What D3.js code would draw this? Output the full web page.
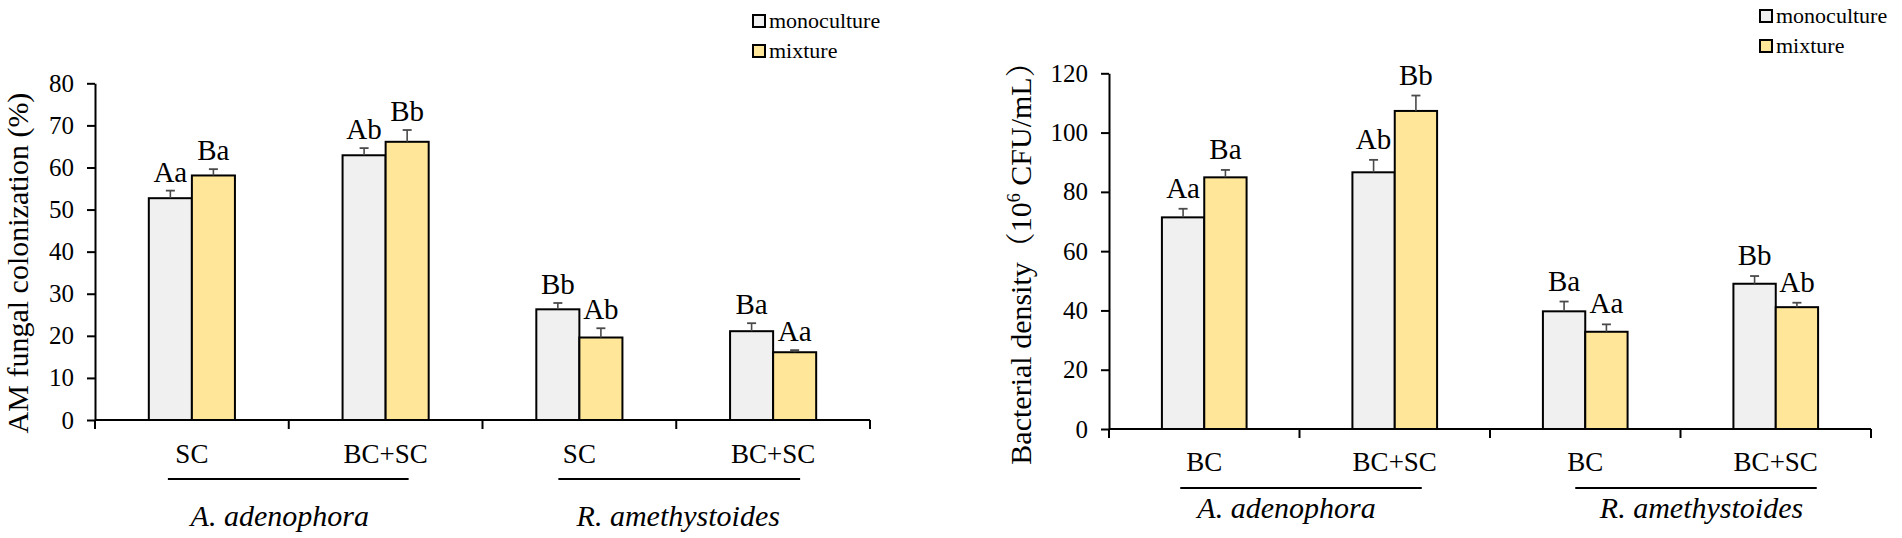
<!DOCTYPE html>
<html><head><meta charset="utf-8">
<script src="https://cdn.jsdelivr.net/npm/d3@7/dist/d3.min.js"></script>
<style>
body{margin:0;background:#fff;}
svg{display:block;}
text{font-family:"Liberation Serif","Times New Roman","Noto Serif CJK SC","Noto Sans CJK SC",serif;fill:#000;}
</style>
</head><body>
<svg id="chart" width="1902" height="538"></svg>
<script>
// ---------- data ----------
const seriesNames = ["monoculture", "mixture"];
const speciesNames = ["A. adenophora", "R. amethystoides"];

// Left panel: AM fungal colonization (%)
const amfCategories = ["SC", "BC+SC", "SC", "BC+SC"];
const amfMono = [52.7, 62.9, 26.3, 21.1];
const amfMonoErr = [1.8, 1.7, 1.5, 1.9];
const amfMix = [58.1, 66.1, 19.6, 16.1];
const amfMixErr = [1.5, 2.8, 2.2, 0.5];
const amfMonoLabels = ["Aa", "Ab", "Bb", "Ba"];
const amfMixLabels = ["Ba", "Bb", "Ab", "Aa"];
const amfTicks = [0, 10, 20, 30, 40, 50, 60, 70, 80];

// Right panel: Bacterial density (10^6 CFU/mL)
const bacCategories = ["BC", "BC+SC", "BC", "BC+SC"];
const bacMono = [71.4, 86.6, 39.7, 49.0];
const bacMonoErr = [2.9, 4.2, 3.3, 2.6];
const bacMix = [84.9, 107.3, 32.8, 41.1];
const bacMixErr = [2.5, 5.2, 2.5, 1.5];
const bacMonoLabels = ["Aa", "Ab", "Ba", "Bb"];
const bacMixLabels = ["Ba", "Bb", "Aa", "Ab"];
const bacTicks = [0, 20, 40, 60, 80, 100, 120];

// ---------- styles ----------
const fills = ["#f0f0f0", "#ffe699"];
const svg = d3.select("#chart");

function drawPanel(o) {
  const g = svg.append("g");
  const x = d3.scaleBand().domain(d3.range(o.categories.length)).range([o.x0, o.x1]).padding(0);
  const xs = d3.scaleBand().domain([0, 1]).range([0, x.bandwidth()]).paddingInner(0).paddingOuter(1.25);
  const y = d3.scaleLinear().domain([0, o.yMax]).range([o.yBottom, o.yTop]);

  const series = [
    {vals: o.mono, err: o.monoErr, labels: o.monoLabels},
    {vals: o.mix, err: o.mixErr, labels: o.mixLabels}
  ];

  series.forEach((s, si) => {
    const items = s.vals.map((v, j) => ({v, e: s.err[j], lab: s.labels[j], j}));
    const cx = d => x(d.j) + xs(si) + xs.bandwidth() / 2;
    g.selectAll(null).data(items).enter().append("rect")
      .attr("x", d => x(d.j) + xs(si))
      .attr("y", d => y(d.v))
      .attr("width", xs.bandwidth())
      .attr("height", d => y(0) - y(d.v))
      .attr("fill", fills[si])
      .attr("stroke", "#000")
      .attr("stroke-width", 2);
    // error bars
    g.selectAll(null).data(items).enter().append("line")
      .attr("x1", cx).attr("x2", cx)
      .attr("y1", d => y(d.v)).attr("y2", d => y(d.v + d.e))
      .attr("stroke", "#4a4a4a").attr("stroke-width", 1.6);
    g.selectAll(null).data(items).enter().append("line")
      .attr("x1", d => cx(d) - 4.5).attr("x2", d => cx(d) + 4.5)
      .attr("y1", d => y(d.v + d.e)).attr("y2", d => y(d.v + d.e))
      .attr("stroke", "#4a4a4a").attr("stroke-width", 1.8);
    // letters
    g.selectAll(null).data(items).enter().append("text")
      .attr("x", cx)
      .attr("y", d => y(d.v + d.e) - o.labelGap)
      .attr("text-anchor", "middle")
      .attr("font-size", 29)
      .text(d => d.lab);
  });

  // y axis
  const ya = g.append("g").attr("transform", `translate(${o.x0},0)`)
    .call(d3.axisLeft(y).tickValues(o.ticks).tickSize(8).tickSizeOuter(0).tickPadding(13).tickFormat(d3.format("d")));
  ya.select(".domain").attr("stroke", "#000").attr("stroke-width", 2);
  ya.selectAll(".tick line").attr("stroke", "#000").attr("stroke-width", 2);
  ya.selectAll(".tick text").attr("font-size", 25).attr("font-family", null).attr("fill", "#000");

  // x axis line + boundary ticks
  g.append("line").attr("x1", o.x0).attr("x2", o.x1).attr("y1", y(0)).attr("y2", y(0))
    .attr("stroke", "#000").attr("stroke-width", 2);
  const bounds = x.domain().map(j => x(j)).concat([o.x1]);
  g.selectAll(null).data(bounds).enter().append("line")
    .attr("x1", d => d).attr("x2", d => d)
    .attr("y1", y(0)).attr("y2", y(0) + 9)
    .attr("stroke", "#000").attr("stroke-width", 2);

  // category labels
  g.selectAll(null).data(o.categories).enter().append("text")
    .attr("x", (d, j) => x(j) + x.bandwidth() / 2)
    .attr("y", o.catY)
    .attr("text-anchor", "middle")
    .attr("font-size", 27)
    .text(d => d);

  // species underline + names
  speciesNames.forEach((sp, k) => {
    const c1 = x(2 * k) + x.bandwidth() / 2, c2 = x(2 * k + 1) + x.bandwidth() / 2;
    const a = c1 + o.lineOff[k][0], b = c2 + o.lineOff[k][1];
    g.append("line").attr("x1", a).attr("x2", b).attr("y1", o.lineY).attr("y2", o.lineY)
      .attr("stroke", "#000").attr("stroke-width", 2.2);
    g.append("text").attr("x", (c1 + c2) / 2 + o.spOff[k]).attr("y", o.spY)
      .attr("text-anchor", "middle").attr("font-size", 30).attr("font-style", "italic")
      .text(sp);
  });

  // y title
  const t = g.append("text")
    .attr("transform", `translate(${o.titleX},${o.titleY}) rotate(-90)`)
    .attr("text-anchor", "middle").attr("font-size", 30);
  o.title(t);

  // legend
  seriesNames.forEach((n, i) => {
    const ly = o.legY + i * 30;
    g.append("rect").attr("x", o.legX).attr("y", ly - 6).attr("width", 12).attr("height", 12)
      .attr("fill", fills[i]).attr("stroke", "#000").attr("stroke-width", 2);
    g.append("text").attr("x", o.legX + 16).attr("y", ly + 7).attr("font-size", 22).text(n);
  });
}

drawPanel({
  categories: amfCategories, mono: amfMono, monoErr: amfMonoErr, mix: amfMix, mixErr: amfMixErr,
  monoLabels: amfMonoLabels, mixLabels: amfMixLabels, ticks: amfTicks, yMax: 80,
  x0: 95, x1: 870, yBottom: 420, yTop: 83.3, labelGap: 9,
  catY: 463, lineY: 479, spY: 526,
  lineOff: [[-24, 23], [-21, 27]], spOff: [-9, 2],
  titleX: 28, titleY: 263,
  title: t => t.text("AM fungal colonization (%)"),
  legX: 753, legY: 21
});

drawPanel({
  categories: bacCategories, mono: bacMono, monoErr: bacMonoErr, mix: bacMix, mixErr: bacMixErr,
  monoLabels: bacMonoLabels, mixLabels: bacMixLabels, ticks: bacTicks, yMax: 120,
  x0: 1109, x1: 1871, yBottom: 429, yTop: 73.3, labelGap: 11,
  catY: 471, lineY: 488, spY: 518,
  lineOff: [[-24, 27], [-10, 41]], spOff: [-13, 21],
  titleX: 1031, titleY: 256,
  title: t => {
    t.append("tspan").text("Bacterial density（10");
    t.append("tspan").attr("font-size", 18).attr("dy", -11).text("6");
    t.append("tspan").attr("dy", 11).text(" CFU/mL）");
  },
  legX: 1760, legY: 16
});
</script>
</body></html>
